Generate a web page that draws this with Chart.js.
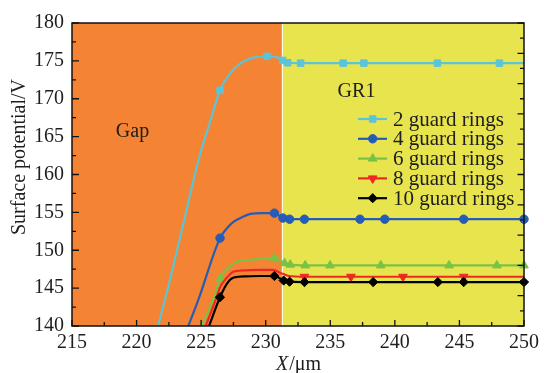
<!DOCTYPE html>
<html>
<head>
<meta charset="utf-8">
<script src="https://cdn.jsdelivr.net/npm/chart.js@4/dist/chart.umd.min.js"></script>
<style>
  html, body { margin: 0; padding: 0; background: #fff; }
  #wrap { width: 544px; height: 373px; }
</style>
</head>
<body>
<div id="wrap"><canvas id="c" width="544" height="373"></canvas></div>
<script>
// Surface potential across the gap and the first guard ring (GR1)
const xTicks = [215, 220, 225, 230, 235, 240, 245, 250];
const yTicks = [140, 145, 150, 155, 160, 165, 170, 175, 180];
const gapEdge = 231.25;           // X where the gap ends and GR1 begins

const seriesNames = ['2 guard rings', '4 guard rings', '6 guard rings', '8 guard rings', '10 guard rings'];

// 2 guard rings
const ring2X = [221.0, 221.68, 222.5, 223.5, 224.84, 225.7, 226.46, 227.36, 227.92, 228.95, 230.1, 230.87, 231.31, 231.7, 232.7, 236.0, 237.6, 243.3, 248.1, 250];
const ring2Y = [134.5, 140.0, 145.5, 152.6, 162.2, 167.0, 171.1, 173.6, 174.5, 175.4, 175.6, 175.5, 175.06, 174.75, 174.7, 174.7, 174.7, 174.7, 174.7, 174.7];
const ring2Marks = [6, 10, 12, 13, 14, 15, 16, 17, 18];

// 4 guard rings
const ring4X = [223.5, 224.01, 224.78, 226.46, 227.0, 227.55, 228.2, 228.82, 229.7, 230.67, 231.33, 231.85, 233.0, 237.3, 239.22, 245.33, 250];
const ring4Y = [137.7, 140.0, 143.45, 151.6, 152.9, 153.8, 154.4, 154.8, 154.9, 154.9, 154.25, 154.1, 154.1, 154.1, 154.1, 154.1, 154.1];
const ring4Marks = [3, 9, 10, 11, 12, 13, 14, 15, 16];

// 6 guard rings
const ring6X = [224.5, 225.05, 225.92, 226.46, 227.0, 227.66, 228.82, 229.8, 230.67, 231.46, 231.9, 233.06, 234.98, 238.91, 244.2, 247.9, 250];
const ring6Y = [137.3, 140.0, 143.45, 146.2, 147.5, 148.4, 148.75, 148.9, 149.0, 148.3, 148.1, 148.0, 148.0, 148.0, 148.0, 148.0, 148.0];
const ring6Marks = [3, 8, 9, 10, 11, 12, 13, 14, 15, 16];

// 8 guard rings
const ring8X = [224.8, 225.35, 226.12, 226.46, 227.0, 227.53, 228.5, 229.5, 230.49, 231.3, 231.8, 233.0, 236.6, 240.63, 245.33, 250];
const ring8Y = [137.5, 140.0, 143.45, 145.1, 146.4, 147.2, 147.35, 147.4, 147.4, 146.9, 146.6, 146.5, 146.5, 146.5, 146.5, 146.5];
const ring8Marks = [11, 12, 13, 14];

// 10 guard rings
const ring10X = [225.0, 225.61, 226.46, 227.0, 227.53, 228.5, 229.5, 230.67, 231.39, 231.85, 233.0, 238.32, 243.33, 245.33, 250];
const ring10Y = [137.3, 140.0, 143.8, 145.6, 146.4, 146.55, 146.6, 146.6, 146.0, 145.85, 145.8, 145.8, 145.8, 145.8, 145.8];
const ring10Marks = [2, 7, 8, 9, 10, 11, 12, 13, 14];

const FONT = '"Liberation Serif", "Times New Roman", serif';
const TEXT = '#1e1e1e';
const GAP_FILL = 'rgb(244,131,52)';
const GR_FILL = 'rgb(232,228,78)';

function toPoints(xs, ys) { return xs.map((x, i) => ({ x: x, y: ys[i] })); }
function radii(n, marks, r) {
  const a = new Array(n).fill(0);
  marks.forEach(i => { a[i] = r; });
  return a;
}

const styles = [
  { color: 'rgb(92,196,214)', pointStyle: 'rect', radius: 4.6, rotation: 0 },
  { color: 'rgb(38,92,182)', pointStyle: 'circle', radius: 4.2, rotation: 0 },
  { color: 'rgb(122,194,70)', pointStyle: 'triangle', radius: 5, rotation: 0 },
  { color: 'rgb(236,40,36)', pointStyle: 'triangle', radius: 5, rotation: 180 },
  { color: 'rgb(0,0,0)', pointStyle: 'rectRot', radius: 4.6, rotation: 0 }
];
const seriesX = [ring2X, ring4X, ring6X, ring8X, ring10X];
const seriesY = [ring2Y, ring4Y, ring6Y, ring8Y, ring10Y];
const seriesMarks = [ring2Marks, ring4Marks, ring6Marks, ring8Marks, ring10Marks];

const datasets = seriesNames.map((name, k) => {
  const s = styles[k];
  return {
    label: name,
    data: toPoints(seriesX[k], seriesY[k]),
    borderColor: s.color,
    backgroundColor: s.color,
    borderWidth: 2.2,
    cubicInterpolationMode: 'monotone',
    pointStyle: s.pointStyle,
    pointRotation: s.rotation,
    pointRadius: radii(seriesX[k].length, seriesMarks[k], s.radius),
    pointBorderWidth: 1,
    pointHoverRadius: 0,
    clip: { left: 6, top: 6, right: 8, bottom: 0 },
    order: seriesNames.length - k
  };
});

// Shaded regions, axis frame, inward ticks, titles, annotations and legend
const decor = {
  id: 'decor',
  beforeDraw(chart) {
    const { ctx, chartArea: a, scales: { x } } = chart;
    const xe = x.getPixelForValue(gapEdge);
    ctx.save();
    ctx.fillStyle = GAP_FILL;
    ctx.fillRect(a.left, a.top, xe - a.left, a.bottom - a.top);
    ctx.fillStyle = GR_FILL;
    ctx.fillRect(xe, a.top, a.right - xe, a.bottom - a.top);
    ctx.strokeStyle = 'rgba(255,255,255,0.85)';
    ctx.lineWidth = 1;
    ctx.beginPath();
    ctx.moveTo(Math.round(xe) + 0.5, a.top);
    ctx.lineTo(Math.round(xe) + 0.5, a.bottom);
    ctx.stroke();
    ctx.restore();
  },
  afterDraw(chart) {
    const { ctx, chartArea: a, scales: { x, y } } = chart;
    ctx.save();
    ctx.strokeStyle = '#111';
    ctx.lineWidth = 1.5;
    ctx.strokeRect(a.left, a.top, a.right - a.left, a.bottom - a.top);

    ctx.lineWidth = 1.3;
    ctx.beginPath();
    for (let v = 215; v <= 250.01; v += 2.5) {
      const px = x.getPixelForValue(v);
      const len = (Math.abs(v % 5) < 0.01) ? 6 : 4;
      ctx.moveTo(px, a.bottom);
      ctx.lineTo(px, a.bottom - len);
    }
    for (let v = 140; v <= 180.01; v += 2.5) {
      const py = y.getPixelForValue(v);
      const len = (Math.abs(v % 5) < 0.01) ? 7 : 4;
      ctx.moveTo(a.left, py);
      ctx.lineTo(a.left + len, py);
    }
    for (let v = 140; v <= 180.01; v += 2) {
      const py = y.getPixelForValue(v);
      const len = (Math.abs(v % 4) < 0.01) ? 6.5 : 4;
      ctx.moveTo(a.right, py);
      ctx.lineTo(a.right - len, py);
    }
    ctx.stroke();

    // region labels
    ctx.fillStyle = TEXT;
    ctx.font = '20px ' + FONT;
    ctx.textAlign = 'center';
    ctx.textBaseline = 'middle';
    ctx.fillText('Gap', 132.5, 132);
    ctx.fillText('GR1', 356.5, 92);

    // y title
    ctx.save();
    ctx.translate(20, 157);
    ctx.rotate(-Math.PI / 2);
    ctx.fillText('Surface potential/V', 0, 0);
    ctx.restore();

    // x title: italic X followed by /μm
    const cx = (a.left + a.right) / 2;
    ctx.textBaseline = 'alphabetic';
    ctx.textAlign = 'left';
    ctx.font = 'italic 20px ' + FONT;
    const wX = ctx.measureText('X').width;
    ctx.font = '20px ' + FONT;
    const wU = ctx.measureText('/μm').width;
    const x0 = cx - (wX + wU) / 2;
    ctx.font = 'italic 20px ' + FONT;
    ctx.fillText('X', x0, 370);
    ctx.font = '20px ' + FONT;
    ctx.fillText('/μm', x0 + wX + 1, 370);

    // legend
    const rowY0 = 119, rowStep = 19.8;
    chart.data.datasets.forEach((ds, k) => {
      const s = styles[k];
      const ry = rowY0 + k * rowStep;
      ctx.strokeStyle = s.color;
      ctx.fillStyle = s.color;
      ctx.lineWidth = 2.2;
      ctx.beginPath();
      ctx.moveTo(358, ry);
      ctx.lineTo(387, ry);
      ctx.stroke();
      ctx.lineWidth = 1;
      Chart.helpers.drawPoint(ctx, { pointStyle: s.pointStyle, radius: s.radius, rotation: s.rotation, borderWidth: 1 }, 372.7, ry);
      ctx.fillStyle = TEXT;
      ctx.font = '21px ' + FONT;
      ctx.textAlign = 'left';
      ctx.textBaseline = 'middle';
      ctx.fillText(ds.label, 393, ry + 1);
    });
    ctx.restore();
  }
};

new Chart(document.getElementById('c'), {
  type: 'line',
  data: { datasets: datasets },
  options: {
    responsive: false,
    animation: false,
    devicePixelRatio: 1,
    layout: { padding: { left: 0, right: 17, top: 23, bottom: 0 } },
    plugins: { legend: { display: false }, tooltip: { enabled: false } },
    scales: {
      x: {
        type: 'linear',
        min: 215, max: 250,
        afterFit(s) { s.height = 47; },
        afterBuildTicks(s) { s.ticks = xTicks.map(v => ({ value: v })); },
        grid: { display: false, drawTicks: false },
        border: { display: false },
        ticks: { padding: 5, color: TEXT, font: { family: FONT, size: 20 }, maxRotation: 0 }
      },
      y: {
        type: 'linear',
        min: 140, max: 180,
        afterFit(s) { s.width = 72; },
        afterBuildTicks(s) { s.ticks = yTicks.map(v => ({ value: v })); },
        grid: { display: false, drawTicks: false },
        border: { display: false },
        ticks: { padding: 8, color: TEXT, font: { family: FONT, size: 20 } }
      }
    }
  },
  plugins: [decor]
});
</script>
</body>
</html>
